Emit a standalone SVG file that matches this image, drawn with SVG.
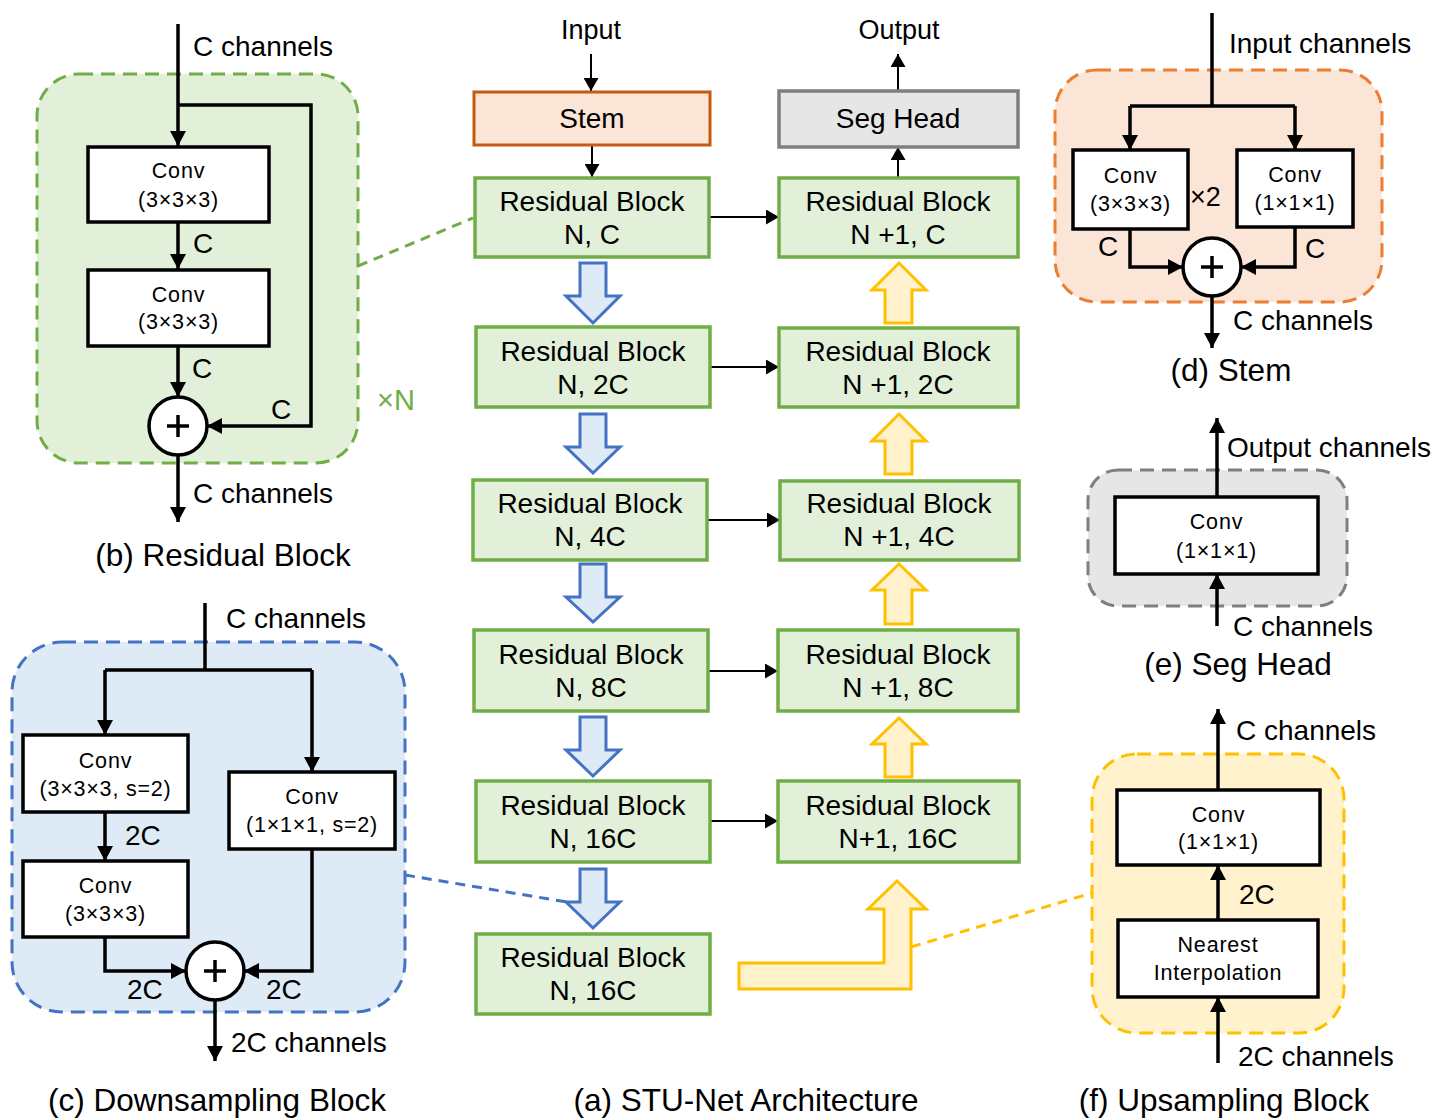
<svg xmlns="http://www.w3.org/2000/svg" width="1434" height="1120" viewBox="0 0 1434 1120">
<defs>
<marker id="ah" markerUnits="userSpaceOnUse" markerWidth="16" markerHeight="16" refX="15" refY="8" orient="auto">
<path d="M0,0 L15,8 L0,16 z" fill="#000"/>
</marker>
<marker id="ahs" markerUnits="userSpaceOnUse" markerWidth="14" markerHeight="15" refX="13" refY="7.5" orient="auto">
<path d="M0,0 L13,7.5 L0,15 z" fill="#000"/>
</marker>
<style>
text{font-family:"Liberation Sans",Arial,sans-serif;fill:#000}
.lb{font-size:28px}
.cap{font-size:31.5px;text-anchor:middle}
.sm{font-size:21.5px;text-anchor:middle;letter-spacing:0.8px}
.md{font-size:28px;text-anchor:middle}
.box{fill:#fff;stroke:#000;stroke-width:3.5}
.rb{fill:#E2F0D9;stroke:#70AD47;stroke-width:3.5}
.ln{fill:none;stroke:#000;stroke-width:3.5}
.thin{fill:none;stroke:#000;stroke-width:2}
.add{fill:#fff;stroke:#000;stroke-width:3.5}
.plus{stroke:#000;stroke-width:3.5}
.dash{stroke-width:3;stroke-dasharray:14,8}
.dn{fill:#DEEBF7;stroke:#4472C4;stroke-width:3}
.up{fill:#FFF2CC;stroke:#FFC000;stroke-width:3}
</style>
</defs>

<!-- Panel containers -->
<g id="panel-b">
<rect x="37" y="74" width="321" height="389" rx="42" fill="#E2F0D9" stroke="#70AD47" class="dash"/>
<text x="377" y="410" style="font-size:29px;fill:#70AD47">×N</text>
<text x="223" y="566" class="cap">(b) Residual Block</text>
</g>
<g id="panel-c">
<rect x="12" y="642" width="393" height="370" rx="50" fill="#DEEBF7" stroke="#4472C4" class="dash"/>
<text x="217" y="1111" class="cap">(c) Downsampling Block</text>
</g>
<g id="panel-d">
<rect x="1055" y="70" width="327" height="232" rx="42" fill="#FBE5D6" stroke="#ED7D31" class="dash"/>
<text x="1231" y="381" class="cap">(d) Stem</text>
</g>
<g id="panel-e">
<rect x="1088" y="470" width="259" height="136" rx="30" fill="#E7E6E6" stroke="#7F7F7F" class="dash"/>
<text x="1238" y="675" class="cap">(e) Seg Head</text>
</g>
<g id="panel-f">
<rect x="1092" y="754" width="252" height="279" rx="45" fill="#FFF2CC" stroke="#FFC000" class="dash"/>
<text x="1224" y="1111" class="cap">(f) Upsampling Block</text>
</g>
<g id="panel-a">
<text x="746" y="1111" class="cap">(a) STU-Net Architecture</text>
</g>

<!-- Connectors -->
<g id="connectors">
<!-- b -->
<path class="ln" d="M178,24 V146" marker-end="url(#ah)"/>
<path class="ln" d="M178,105 H311 V426 H207" marker-end="url(#ah)"/>
<path class="ln" d="M178,222 V269" marker-end="url(#ah)"/>
<path class="ln" d="M178,346 V397" marker-end="url(#ah)"/>
<path class="ln" d="M178,455 V522" marker-end="url(#ah)"/>
<!-- c -->
<path class="ln" d="M205,603 V670"/>
<path class="ln" d="M105,670 H312"/>
<path class="ln" d="M105,670 V735" marker-end="url(#ah)"/>
<path class="ln" d="M312,670 V772" marker-end="url(#ah)"/>
<path class="ln" d="M105,812 V861" marker-end="url(#ah)"/>
<path class="ln" d="M105,937 V971 H186" marker-end="url(#ah)"/>
<path class="ln" d="M312,849 V971 H244" marker-end="url(#ah)"/>
<path class="ln" d="M215,1000 V1061" marker-end="url(#ah)"/>
<!-- d -->
<path class="ln" d="M1212,13 V106"/>
<path class="ln" d="M1130,106 H1295"/>
<path class="ln" d="M1130,106 V150" marker-end="url(#ah)"/>
<path class="ln" d="M1295,106 V150" marker-end="url(#ah)"/>
<path class="ln" d="M1130,229 V267 H1183" marker-end="url(#ah)"/>
<path class="ln" d="M1295,227 V267 H1241" marker-end="url(#ah)"/>
<path class="ln" d="M1212,296 V348" marker-end="url(#ah)"/>
<!-- e -->
<path class="ln" d="M1217,497 V418" marker-end="url(#ah)"/>
<path class="ln" d="M1217,626 V574" marker-end="url(#ah)"/>
<!-- f -->
<path class="ln" d="M1218,790 V709" marker-end="url(#ah)"/>
<path class="ln" d="M1218,920 V865" marker-end="url(#ah)"/>
<path class="ln" d="M1218,1063 V997" marker-end="url(#ah)"/>
<!-- a -->
<path class="thin" d="M591,54 V91" marker-end="url(#ahs)"/>
<path class="thin" d="M592,145 V177" marker-end="url(#ahs)"/>
<path class="thin" d="M898,178 V147" marker-end="url(#ahs)"/>
<path class="thin" d="M898,91 V54" marker-end="url(#ahs)"/>
<path class="thin" d="M709,217 H779" marker-end="url(#ahs)"/>
<path class="thin" d="M710,367 H779" marker-end="url(#ahs)"/>
<path class="thin" d="M707,520 H780" marker-end="url(#ahs)"/>
<path class="thin" d="M708,671 H778" marker-end="url(#ahs)"/>
<path class="thin" d="M710,821 H778" marker-end="url(#ahs)"/>
<!-- down arrows -->
<path class="dn" d="M580,263 H606 V296 H620 L593,323 L566,296 H580 Z"/>
<path class="dn" d="M580,414 H606 V447 H620 L593,473 L566,447 H580 Z"/>
<path class="dn" d="M580,564 H606 V597 H620 L593,622 L566,597 H580 Z"/>
<path class="dn" d="M580,717 H606 V750 H620 L593,776 L566,750 H580 Z"/>
<path class="dn" d="M580,869 H606 V902 H620 L593,928 L566,902 H580 Z"/>
<!-- up arrows -->
<path class="up" d="M885,323 V290 H872 L899,263 L926,290 H912 V323 Z"/>
<path class="up" d="M885,474 V441 H872 L899,414 L926,441 H912 V474 Z"/>
<path class="up" d="M885,624 V590 H872 L899,564 L926,590 H912 V624 Z"/>
<path class="up" d="M885,777 V744 H872 L899,718 L926,744 H912 V777 Z"/>
<path class="up" d="M739,963 H884 V909 H868 L897,881 L926,909 H911 V989 H739 Z"/>
<!-- zoom links -->
<path d="M358,266 L473,218" stroke="#70AD47" fill="none" stroke-width="3" stroke-dasharray="10,7"/>
<path d="M405,875 L567,902" stroke="#4472C4" fill="none" stroke-width="3" stroke-dasharray="10,7"/>
<path d="M911,947 L1092,893" stroke="#FFC000" fill="none" stroke-width="3" stroke-dasharray="10,7"/>
</g>

<!-- Panel b nodes -->
<g id="b-conv1"><rect class="box" x="88" y="147" width="181" height="75"/><text class="sm" x="178.5" y="178">Conv</text><text class="sm" x="178.5" y="207">(3×3×3)</text></g>
<g id="b-conv2"><rect class="box" x="88" y="270" width="181" height="76"/><text class="sm" x="178.5" y="302">Conv</text><text class="sm" x="178.5" y="329">(3×3×3)</text></g>
<g id="b-add"><circle class="add" cx="178" cy="426" r="29"/><path class="plus" d="M167,426 H189 M178,415 V437"/></g>
<g id="b-labels">
<text class="lb" x="193" y="56">C channels</text>
<text class="lb" x="193" y="253">C</text>
<text class="lb" x="192" y="378">C</text>
<text class="lb" x="271" y="419">C</text>
<text class="lb" x="193" y="503">C channels</text>
</g>

<!-- Panel c nodes -->
<g id="c-conv1"><rect class="box" x="23" y="735" width="165" height="77"/><text class="sm" x="105.5" y="768">Conv</text><text class="sm" x="105.5" y="796">(3×3×3, s=2)</text></g>
<g id="c-conv2"><rect class="box" x="23" y="861" width="165" height="76"/><text class="sm" x="105.5" y="893">Conv</text><text class="sm" x="105.5" y="921">(3×3×3)</text></g>
<g id="c-conv3"><rect class="box" x="229" y="772" width="166" height="77"/><text class="sm" x="312" y="804">Conv</text><text class="sm" x="312" y="832">(1×1×1, s=2)</text></g>
<g id="c-add"><circle class="add" cx="215" cy="971" r="29"/><path class="plus" d="M204,971 H226 M215,960 V982"/></g>
<g id="c-labels">
<text class="lb" x="226" y="628">C channels</text>
<text class="lb" x="125" y="845">2C</text>
<text class="lb" x="127" y="999">2C</text>
<text class="lb" x="266" y="999">2C</text>
<text class="lb" x="231" y="1052">2C channels</text>
</g>

<!-- Panel d nodes -->
<g id="d-conv1"><rect class="box" x="1073" y="150" width="115" height="79"/><text class="sm" x="1130.5" y="183">Conv</text><text class="sm" x="1130.5" y="211">(3×3×3)</text></g>
<g id="d-conv2"><rect class="box" x="1237" y="150" width="116" height="77"/><text class="sm" x="1295" y="182">Conv</text><text class="sm" x="1295" y="210">(1×1×1)</text></g>
<g id="d-add"><circle class="add" cx="1212" cy="267" r="29"/><path class="plus" d="M1201,267 H1223 M1212,256 V278"/></g>
<g id="d-labels">
<text class="lb" x="1229" y="53">Input channels</text>
<text class="lb" x="1190" y="206" style="font-size:27px">×2</text>
<text class="lb" x="1098" y="256">C</text>
<text class="lb" x="1305" y="258">C</text>
<text class="lb" x="1233" y="330">C channels</text>
</g>

<!-- Panel e nodes -->
<g id="e-conv"><rect class="box" x="1115" y="497" width="203" height="77"/><text class="sm" x="1216.5" y="529">Conv</text><text class="sm" x="1216.5" y="558">(1×1×1)</text></g>
<g id="e-labels">
<text class="lb" x="1227" y="457">Output channels</text>
<text class="lb" x="1233" y="636">C channels</text>
</g>

<!-- Panel f nodes -->
<g id="f-conv"><rect class="box" x="1117" y="790" width="203" height="75"/><text class="sm" x="1218.5" y="822">Conv</text><text class="sm" x="1218.5" y="849">(1×1×1)</text></g>
<g id="f-interp"><rect class="box" x="1118" y="920" width="200" height="77"/><text class="sm" x="1218" y="952">Nearest</text><text class="sm" x="1218" y="980">Interpolation</text></g>
<g id="f-labels">
<text class="lb" x="1236" y="740">C channels</text>
<text class="lb" x="1239" y="904">2C</text>
<text class="lb" x="1238" y="1066">2C channels</text>
</g>

<!-- Panel a nodes -->
<g id="a-io">
<text class="md" x="591" y="39" style="font-size:27px">Input</text>
<text class="md" x="899" y="39" style="font-size:27px">Output</text>
</g>
<g id="stem"><rect x="474" y="92" width="236" height="53" fill="#FBE5D6" stroke="#C55A11" stroke-width="3"/><text class="md" x="592" y="128">Stem</text></g>
<g id="seghead"><rect x="779" y="91" width="239" height="56" fill="#E7E6E6" stroke="#7F7F7F" stroke-width="3.5"/><text class="md" x="898" y="128">Seg Head</text></g>
<g id="enc1"><rect class="rb" x="475" y="178" width="234" height="79"/><text class="md" x="592" y="211">Residual Block</text><text class="md" x="592" y="244">N, C</text></g>
<g id="enc2"><rect class="rb" x="476" y="327" width="234" height="80"/><text class="md" x="593" y="361">Residual Block</text><text class="md" x="593" y="394">N, 2C</text></g>
<g id="enc3"><rect class="rb" x="473" y="480" width="234" height="80"/><text class="md" x="590" y="513">Residual Block</text><text class="md" x="590" y="546">N, 4C</text></g>
<g id="enc4"><rect class="rb" x="474" y="630" width="234" height="81"/><text class="md" x="591" y="664">Residual Block</text><text class="md" x="591" y="697">N, 8C</text></g>
<g id="enc5"><rect class="rb" x="476" y="781" width="234" height="81"/><text class="md" x="593" y="815">Residual Block</text><text class="md" x="593" y="848">N, 16C</text></g>
<g id="enc6"><rect class="rb" x="476" y="934" width="234" height="80"/><text class="md" x="593" y="967">Residual Block</text><text class="md" x="593" y="1000">N, 16C</text></g>
<g id="dec1"><rect class="rb" x="779" y="178" width="239" height="79"/><text class="md" x="898" y="211">Residual Block</text><text class="md" x="898" y="244">N +1, C</text></g>
<g id="dec2"><rect class="rb" x="779" y="328" width="239" height="79"/><text class="md" x="898" y="361">Residual Block</text><text class="md" x="898" y="394">N +1, 2C</text></g>
<g id="dec3"><rect class="rb" x="780" y="481" width="239" height="79"/><text class="md" x="899" y="513">Residual Block</text><text class="md" x="899" y="546">N +1, 4C</text></g>
<g id="dec4"><rect class="rb" x="778" y="630" width="240" height="81"/><text class="md" x="898" y="664">Residual Block</text><text class="md" x="898" y="697">N +1, 8C</text></g>
<g id="dec5"><rect class="rb" x="778" y="781" width="241" height="81"/><text class="md" x="898" y="815">Residual Block</text><text class="md" x="898" y="848">N+1, 16C</text></g>
</svg>
